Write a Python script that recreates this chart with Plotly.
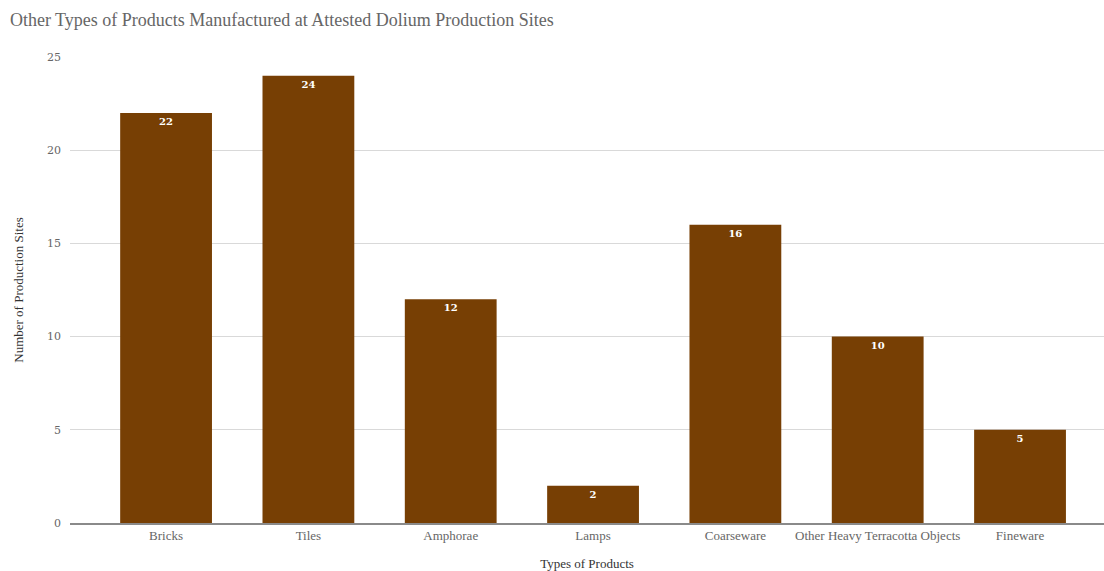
import plotly.graph_objects as go

categories = ["Bricks", "Tiles", "Amphorae", "Lamps", "Coarseware", "Other Heavy Terracotta Objects", "Fineware"]
values = [22, 24, 12, 2, 16, 10, 5]

fig = go.Figure(go.Bar(
    x=categories, y=values,
    marker=dict(color="#773f04", line=dict(width=0)),
    width=0.645,
    text=[str(v) for v in values],
    textposition="inside", insidetextanchor="end",
    textfont=dict(family="DejaVu Serif", size=10, color="white", weight="bold"),
    constraintext="none",
))

font = "Liberation Serif"
fig.update_layout(
    width=1104, height=571,
    margin=dict(l=70, r=0, t=57, b=48),
    paper_bgcolor="white", plot_bgcolor="white",
    title=dict(text="Other Types of Products Manufactured at Attested Dolium Production Sites",
               x=0.009, xanchor="left", y=0.965, yanchor="middle",
               font=dict(family=font, size=18, color="#666666")),
    showlegend=False,
    xaxis=dict(range=[-0.675, 6.59], tickfont=dict(family=font, size=13, color="#666666"),
               showline=True, linecolor="#8a8a8a", linewidth=1.5, ticks="",
               title=dict(text="Types of Products", font=dict(family=font, size=13, color="#333333"), standoff=19)),
    yaxis=dict(range=[0, 25], tickvals=[0, 5, 10, 15, 20, 25],
               tickfont=dict(family="DejaVu Serif", size=11, color="#666666"),
               gridcolor="#d9d9d9", gridwidth=1, zeroline=False, ticks="", ticklabelstandoff=8,
               title=dict(text="Number of Production Sites", font=dict(family=font, size=13, color="#333333"), standoff=20)),
)
fig.write_html("out.html")
